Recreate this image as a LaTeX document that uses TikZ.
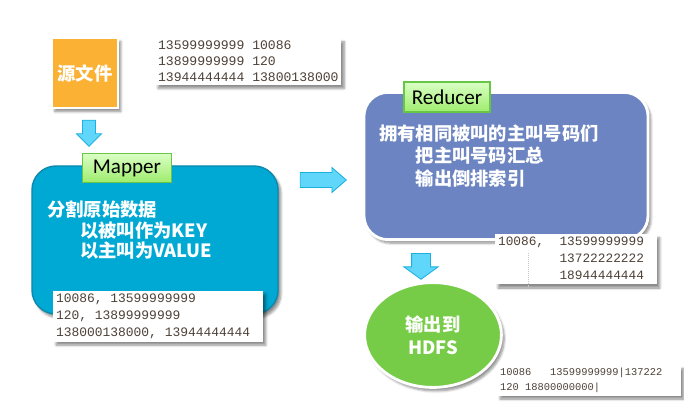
\documentclass[tikz,border=0pt]{standalone}
\usepackage{fontspec}
\newfontfamily\cjkfont{Noto Sans CJK SC}
\newfontfamily\tagfont{Carlito}
\newfontfamily\datafont[WordSpace={1,0,0}]{Liberation Mono}
\usepackage{tikz}
\usetikzlibrary{shapes.arrows, shapes.geometric, shadows.blur, positioning}

\definecolor{srcorange}{RGB}{251, 177, 52}
\definecolor{mapblue}{RGB}{0, 169, 212}
\definecolor{mapedge}{RGB}{12, 136, 172}
\definecolor{redblue}{RGB}{108, 132, 193}
\definecolor{outgreen}{RGB}{119, 204, 71}
\definecolor{taglight}{RGB}{218, 255, 196}
\definecolor{tagdark}{RGB}{158, 236, 110}
\definecolor{tagedge}{RGB}{104, 198, 70}
\definecolor{arrowfill}{RGB}{96, 215, 250}
\definecolor{arrowedge}{RGB}{28, 176, 226}
\definecolor{datagray}{RGB}{78, 66, 56}

\tikzset{
  softshadow/.style={blur shadow={shadow xshift=2pt, shadow yshift=-2.5pt, shadow blur steps=6, shadow opacity=45}},
  databox/.style={fill=white, text=datagray, anchor=north west, align=left, inner xsep=2pt, inner ysep=2pt, softshadow},
  tagbox/.style={draw=tagedge, line width=0.8pt, top color=taglight, bottom color=tagdark, font=\tagfont\fontsize{15}{15}\selectfont, inner sep=0pt},
  blockarrow/.style={single arrow, draw=arrowedge, fill=arrowfill, line width=0.6pt},
  bodytext/.style={text=white, align=left, anchor=north west, inner sep=0pt},
  cjkbold/.style={font=\cjkfont\bfseries\fontsize{13}{#1}\selectfont},
}

\begin{document}
\begin{tikzpicture}[x=0.025cm, y=-0.025cm]
  \useasboundingbox (0,0) rectangle (684,407);

  % source file and its records
  \node[fill=srcorange, draw=white, line width=1.5pt, softshadow, minimum width=1.65cm, minimum height=1.75cm, text=white, cjkbold=15] (src) at (85,73) {源文件};
  \node[databox, font=\datafont\fontsize{9.3}{11.4}\selectfont] (srcdata) at (155,38) {13599999999\phantom{0}10086\\13899999999\phantom{0}120\\13944444444\phantom{0}13800138000};
  \node[blockarrow, shape border rotate=270, inner sep=0.15cm, single arrow head extend=0.15cm, minimum height=0.65cm] (down1) at (89,130) {};

  % map stage
  \node[fill=mapblue, draw=mapedge, line width=1pt, rounded corners=0.6cm, softshadow, minimum width=6.15cm, minimum height=3.7cm] (mapper) at (155,240) {};
  \node[bodytext, cjkbold=14.4] (maptext) at (47,201) {分割原始数据\\\hspace*{1.8em}以被叫作为KEY\\\hspace*{1.8em}以主叫为VALUE};
  \node[tagbox, minimum width=2.22cm, minimum height=0.72cm] (maptag) at (127,168) {Mapper};
  \node[databox, text width=5.1cm, font=\datafont\fontsize{9.2}{12}\selectfont] (mapdata) at (53,291) {10086,\phantom{0}13599999999\\120,\phantom{0}13899999999\\138000138000,\phantom{0}13944444444};

  \node[blockarrow, inner sep=0.175cm, single arrow head extend=0.125cm, single arrow tip angle=82, minimum height=1.15cm] (right1) at (319,180) {};

  % reduce stage
  \node[fill=redblue, draw=white, line width=2pt, rounded corners=0.6cm, softshadow, minimum width=7.1cm, minimum height=3.68cm] (reducer) at (506,166) {};
  \node[bodytext, cjkbold=16] (redtext) at (379,124) {拥有相同被叫的主叫号码们\\\hspace*{2em}把主叫号码汇总\\\hspace*{2em}输出倒排索引};
  \node[tagbox, minimum width=2.15cm, minimum height=0.75cm] (redtag) at (447,97) {Reducer};
  \node[databox, text width=3.9cm, font=\datafont\fontsize{9.1}{12}\selectfont] (reddata) at (495,234) {10086,\phantom{00}13599999999\\\phantom{10086,00}13722222222\\\phantom{10086,00}18944444444};
  \draw[gray!45, densely dotted] (528,253) -- (528,288);

  \node[blockarrow, shape border rotate=270, inner sep=0.225cm, single arrow head extend=0.19cm, single arrow tip angle=108, minimum height=0.58cm] (down2) at (421,263) {};

  % output
  \node[ellipse, fill=outgreen, draw=white, line width=2pt, softshadow, minimum width=3.42cm, minimum height=2.62cm, text=white, align=center, cjkbold=16] (hdfs) at (433,335) {输出到\\HDFS};
  \node[databox, text width=4.45cm, font=\datafont\fontsize{7.4}{10.6}\selectfont] (hdfsdata) at (497,365) {10086\phantom{000}13599999999|137222\\120\phantom{0}18800000000|};
\end{tikzpicture}
\end{document}
